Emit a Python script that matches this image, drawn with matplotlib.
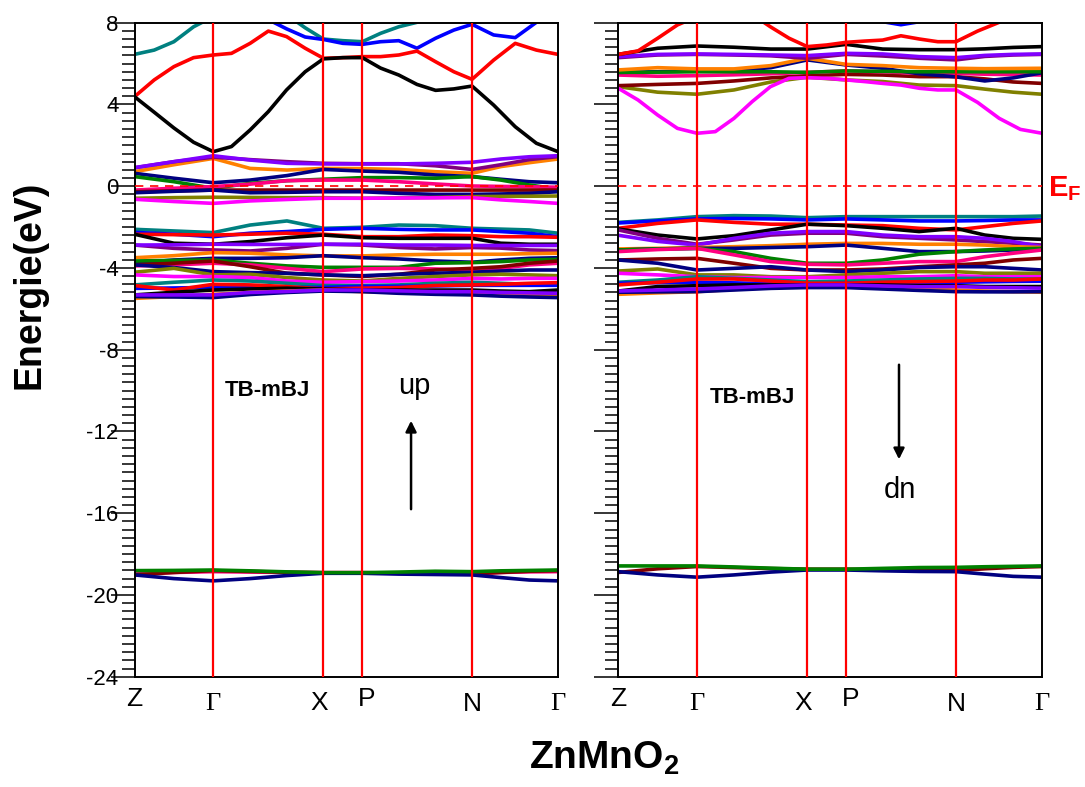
import matplotlib
matplotlib.use("Agg")
import matplotlib.pyplot as plt
from matplotlib.ticker import MultipleLocator
import numpy as np

plt.rcParams['font.family'] = ['Liberation Sans', 'DejaVu Sans']
plt.rcParams['mathtext.fontset'] = 'custom'
plt.rcParams['mathtext.bf'] = 'Liberation Sans:bold'
plt.rcParams['mathtext.rm'] = 'Liberation Sans'
plt.rcParams['axes.unicode_minus'] = False

# ---------------- k-path ----------------
k_labels = ['Z', 'Γ', 'X', 'P', 'N', 'Γ']
k_ticks = [0.0, 0.186, 0.446, 0.538, 0.797, 1.0]
k_fine = [0, .0465, .093, .1395, .186, .229, .273, .316, .359, .403, .446, .492,
          .538, .581, .624, .667, .711, .754, .797, .848, .899, .949, 1.0]
k_coarse = [0, .093, .186, .273, .36, .446, .538, .624, .71, .797, .865, .932, 1.0]

# ---------------- spin up (fine grid) ----------------
up_black_c = [4.38, 3.62, 2.85, 2.15, 1.69, 1.94, 2.75, 3.65, 4.71, 5.6, 6.23, 6.29,
              6.29, 5.78, 5.44, 4.98, 4.69, 4.76, 4.9, 3.97, 2.91, 2.1, 1.69]
up_red_c = [4.38, 5.2, 5.85, 6.29, 6.42, 6.5, 6.99, 7.59, 7.32, 6.75, 6.26, 6.29,
            6.34, 6.34, 6.42, 6.61, 6.09, 5.6, 5.23, 6.17, 6.99, 6.66, 6.45]
up_teal_c = [6.45, 6.66, 7.07, 7.8, 8.3, 8.6, 8.7, 8.6, 8.4, 7.75, 7.2, 7.12,
             7.07, 7.48, 7.8, 8.02, 8.3, 8.5, 8.6, 8.7, 8.8, 8.9, 9.0]
up_blue_c = [8.9, 8.9, 8.8, 8.7, 8.6, 8.5, 8.4, 8.15, 7.7, 7.3, 7.18, 6.99,
             6.94, 7.07, 7.12, 6.75, 7.24, 7.64, 7.92, 7.4, 7.27, 8.02, 8.4]

# ---------------- spin up (coarse grid) ----------------
up_violet = [0.91, 1.2, 1.49, 1.28, 1.12, 1.09, 1.09, 1.09, 1.12, 1.17, 1.33, 1.44, 1.49]
up_dpurple = [0.9, 1.2, 1.42, 1.3, 1.2, 1.12, 1.1, 1.1, 1.0, 0.82, 1.05, 1.3, 1.45]
up_orange = [0.71, 1.05, 1.36, 0.87, 0.79, 0.87, 0.86, 0.82, 0.71, 0.63, 0.96, 1.15, 1.33]
up_navy1 = [0.63, 0.39, 0.17, 0.3, 0.52, 0.82, 0.74, 0.68, 0.55, 0.47, 0.34, 0.22, 0.17]
up_green1 = [0.47, 0.22, -0.1, 0.14, 0.27, 0.34, 0.42, 0.42, 0.39, 0.47, 0.3, 0.06, -0.14]
up_pink1 = [-0.19, -0.1, -0.02, 0.1, 0.27, 0.3, 0.3, 0.22, 0.11, 0.01, -0.01, -0.03, -0.05]
up_maroon1 = [-0.27, -0.23, -0.19, -0.19, -0.19, -0.19, -0.19, -0.19, -0.19, -0.19, -0.19, -0.19, -0.19]
up_navy2 = [-0.32, -0.25, -0.19, -0.32, -0.3, -0.27, -0.27, -0.35, -0.4, -0.4, -0.38, -0.35, -0.27]
up_olive1 = [-0.59, -0.56, -0.54, -0.55, -0.56, -0.56, -0.59, -0.57, -0.55, -0.51, -0.5, -0.49, -0.48]
up_magenta1 = [-0.64, -0.75, -0.84, -0.72, -0.65, -0.59, -0.59, -0.58, -0.57, -0.56, -0.67, -0.75, -0.84]

up_teal2 = [-2.11, -2.19, -2.27, -1.9, -1.7, -2.06, -2.01, -1.9, -1.93, -2.06, -2.1, -2.14, -2.3]
up_blue2 = [-2.26, -2.35, -2.47, -2.3, -2.22, -2.11, -2.06, -2.11, -2.14, -2.14, -2.22, -2.3, -2.47]
up_red2 = [-2.35, -2.37, -2.39, -2.35, -2.3, -2.35, -2.47, -2.47, -2.39, -2.42, -2.47, -2.47, -2.5]
up_black2 = [-2.35, -2.79, -2.84, -2.71, -2.52, -2.39, -2.52, -2.55, -2.55, -2.55, -2.79, -2.84, -2.84]
up_violet2 = [-2.88, -2.87, -2.84, -2.85, -2.85, -2.84, -2.84, -2.88, -2.88, -2.9, -2.9, -2.9, -2.9]
up_dpurple2 = [-2.88, -3.04, -3.12, -3.17, -3.04, -2.84, -2.88, -3.0, -3.07, -3.0, -3.03, -3.12, -3.15]
up_orange2 = [-3.5, -3.4, -3.25, -3.28, -3.36, -3.41, -3.41, -3.36, -3.33, -3.33, -3.33, -3.3, -3.28]
up_navy3 = [-3.77, -3.61, -3.53, -3.53, -3.5, -3.4, -3.5, -3.56, -3.66, -3.72, -3.61, -3.53, -3.5]
up_green2 = [-3.66, -3.63, -3.61, -3.77, -3.9, -3.97, -3.97, -3.97, -3.77, -3.74, -3.69, -3.61, -3.58]
up_maroon2 = [-3.85, -3.77, -3.66, -3.94, -4.26, -4.34, -4.42, -4.31, -4.1, -4.02, -3.94, -3.77, -3.66]
up_pink2 = [-3.9, -3.85, -3.77, -3.85, -4.02, -4.18, -4.05, -4.02, -4.05, -4.1, -4.02, -3.85, -3.77]
up_navy4 = [-3.85, -3.98, -4.18, -4.23, -4.26, -4.34, -4.38, -4.31, -4.26, -4.21, -4.15, -4.1, -4.1]
up_olive2 = [-4.21, -4.02, -4.34, -4.31, -4.47, -4.59, -4.64, -4.51, -4.42, -4.34, -4.31, -4.34, -4.38]
up_magenta2 = [-4.34, -4.42, -4.42, -4.47, -4.64, -4.7, -4.67, -4.64, -4.59, -4.51, -4.54, -4.51, -4.51]
up_teal3 = [-4.83, -4.7, -4.59, -4.64, -4.75, -4.86, -4.86, -4.83, -4.75, -4.7, -4.75, -4.8, -4.83]
up_blue3 = [-5.0, -4.98, -4.95, -4.95, -4.95, -4.95, -4.9, -4.9, -4.88, -4.85, -4.85, -4.85, -4.85]
up_red3 = [-4.86, -5.08, -4.8, -4.83, -4.91, -5.03, -4.99, -4.96, -4.86, -4.83, -4.8, -4.75, -4.72]
up_black3 = [-5.32, -5.19, -5.08, -5.03, -4.99, -5.03, -5.08, -5.08, -5.08, -5.08, -5.13, -5.16, -5.08]
up_violet3 = [-5.32, -5.32, -5.32, -5.2, -5.15, -5.08, -5.08, -5.12, -5.16, -5.16, -5.2, -5.22, -5.24]
up_orange3 = [-5.49, -5.4, -5.29, -5.2, -5.13, -5.08, -5.16, -5.2, -5.24, -5.29, -5.32, -5.32, -5.32]
up_navy5 = [-5.4, -5.42, -5.45, -5.3, -5.2, -5.13, -5.16, -5.24, -5.29, -5.32, -5.38, -5.42, -5.45]

up_pink3 = [-18.95, -18.9, -18.86, -18.88, -18.9, -18.91, -18.91, -18.93, -18.95, -18.95, -18.9, -18.87, -18.86]
up_maroon3 = [-19.02, -18.9, -18.81, -18.85, -18.89, -18.91, -18.91, -18.93, -18.96, -18.97, -18.9, -18.84, -18.81]
up_navy6 = [-19.02, -19.2, -19.31, -19.2, -19.05, -18.94, -18.94, -18.98, -19.0, -19.02, -19.15, -19.27, -19.31]
up_green3 = [-18.81, -18.8, -18.78, -18.82, -18.87, -18.91, -18.91, -18.88, -18.84, -18.86, -18.82, -18.8, -18.78]

# ---------------- spin down (fine grid) ----------------
dn_red_c = [6.45, 6.62, 7.24, 7.89, 8.3, 8.6, 8.6, 8.4, 7.8, 7.24, 6.83, 6.91,
            7.04, 7.1, 7.15, 7.36, 7.2, 7.07, 7.07, 7.59, 8.02, 8.4, 8.7]
dn_magenta_c = [4.79, 4.22, 3.48, 2.83, 2.59, 2.67, 3.32, 4.14, 4.87, 5.28, 5.31, 5.28,
                5.2, 5.12, 5.03, 4.95, 4.79, 4.71, 4.71, 4.1, 3.32, 2.78, 2.59]
dn_blue_c = [8.8, 8.8, 8.8, 8.8, 8.8, 8.8, 8.8, 8.8, 8.8, 8.8, 8.7, 8.6,
             8.4, 8.2, 8.05, 7.9, 8.05, 8.3, 8.6, 8.8, 8.8, 8.8, 8.8]

# ---------------- spin down (coarse grid) ----------------
dn_black1 = [6.45, 6.75, 6.86, 6.8, 6.71, 6.71, 6.94, 6.71, 6.68, 6.68, 6.72, 6.79, 6.83]
dn_violet1 = [6.34, 6.45, 6.47, 6.45, 6.42, 6.39, 6.5, 6.47, 6.34, 6.29, 6.4, 6.45, 6.47]
dn_dpurple1 = [6.29, 6.42, 6.45, 6.42, 6.38, 6.26, 6.45, 6.37, 6.26, 6.18, 6.35, 6.42, 6.45]
dn_orange1 = [5.69, 5.8, 5.74, 5.74, 5.9, 6.26, 5.96, 5.9, 5.8, 5.77, 5.75, 5.76, 5.77]
dn_navy1 = [5.57, 5.6, 5.64, 5.66, 5.8, 6.18, 5.93, 5.77, 5.5, 5.35, 5.15, 5.3, 5.55]
dn_green1 = [5.57, 5.58, 5.6, 5.6, 5.6, 5.57, 5.64, 5.62, 5.6, 5.6, 5.6, 5.6, 5.6]
dn_pink1 = [5.44, 5.38, 5.41, 5.45, 5.5, 5.57, 5.64, 5.6, 5.52, 5.52, 5.48, 5.46, 5.44]
dn_maroon1 = [4.92, 4.98, 5.03, 5.15, 5.3, 5.41, 5.47, 5.44, 5.36, 5.36, 5.25, 5.1, 5.03]
dn_olive1 = [4.87, 4.6, 4.5, 4.71, 5.1, 5.33, 5.2, 5.12, 4.95, 4.92, 4.75, 4.6, 4.5]

dn_teal2 = [-1.77, -1.65, -1.49, -1.44, -1.46, -1.54, -1.49, -1.49, -1.49, -1.49, -1.49, -1.49, -1.46]
dn_blue2 = [-1.8, -1.7, -1.6, -1.58, -1.6, -1.65, -1.6, -1.65, -1.7, -1.7, -1.68, -1.65, -1.65]
dn_red2 = [-2.06, -1.82, -1.65, -1.77, -1.86, -1.86, -1.9, -1.93, -2.06, -2.14, -1.98, -1.82, -1.7]
dn_black2 = [-2.09, -2.39, -2.58, -2.42, -2.14, -1.86, -1.93, -2.06, -2.22, -2.06, -2.39, -2.55, -2.6]
dn_dpurple2 = [-2.14, -2.55, -2.84, -2.63, -2.39, -2.3, -2.3, -2.47, -2.55, -2.63, -2.71, -2.79, -2.88]
dn_violet2 = [-2.4, -2.7, -2.88, -2.55, -2.3, -2.22, -2.22, -2.39, -2.47, -2.47, -2.55, -2.71, -2.96]
dn_orange2 = [-3.07, -3.04, -3.0, -2.96, -2.91, -2.84, -2.8, -2.8, -2.84, -2.84, -2.88, -2.96, -3.0]
dn_navy2 = [-3.12, -3.07, -3.04, -3.04, -3.0, -2.96, -2.88, -3.04, -3.2, -3.2, -3.17, -3.12, -3.07]
dn_green2 = [-3.12, -3.07, -3.04, -3.2, -3.53, -3.77, -3.77, -3.61, -3.33, -3.2, -3.12, -3.07, -3.04]
dn_pink2 = [-3.2, -3.1, -3.04, -3.36, -3.69, -3.82, -3.85, -3.77, -3.69, -3.69, -3.45, -3.28, -3.12]
dn_maroon2 = [-3.61, -3.56, -3.53, -3.77, -4.02, -4.1, -4.1, -4.05, -3.94, -3.85, -3.77, -3.61, -3.53]
dn_navy3 = [-3.61, -3.77, -4.1, -4.02, -3.94, -4.1, -4.18, -4.1, -3.98, -3.94, -3.94, -4.02, -4.1]
dn_olive2 = [-4.15, -4.05, -4.34, -4.34, -4.43, -4.43, -4.34, -4.26, -4.18, -4.18, -4.26, -4.26, -4.26]
dn_magenta2 = [-4.26, -4.34, -4.43, -4.47, -4.47, -4.47, -4.47, -4.43, -4.43, -4.38, -4.43, -4.43, -4.43]
dn_teal3 = [-4.7, -4.59, -4.43, -4.51, -4.59, -4.67, -4.64, -4.59, -4.54, -4.51, -4.51, -4.54, -4.54]
dn_blue3 = [-4.75, -4.72, -4.7, -4.73, -4.77, -4.8, -4.75, -4.73, -4.71, -4.7, -4.68, -4.66, -4.65]
dn_red3 = [-4.83, -4.7, -4.54, -4.54, -4.64, -4.75, -4.75, -4.7, -4.67, -4.64, -4.59, -4.59, -4.54]
dn_black3 = [-5.13, -4.91, -4.87, -4.83, -4.83, -4.83, -4.83, -4.83, -4.87, -4.87, -4.91, -4.91, -4.91]
dn_violet3 = [-5.13, -5.08, -5.03, -4.96, -4.88, -4.83, -4.83, -4.88, -4.92, -4.91, -4.95, -4.97, -4.99]
dn_orange3 = [-5.29, -5.22, -5.16, -5.05, -4.96, -4.91, -4.91, -4.96, -5.03, -5.08, -5.13, -5.16, -5.19]
dn_navy4 = [-5.19, -5.17, -5.16, -5.08, -5.0, -4.96, -4.96, -5.03, -5.1, -5.16, -5.17, -5.17, -5.16]

dn_maroon3 = [-18.9, -18.72, -18.61, -18.66, -18.71, -18.74, -18.74, -18.77, -18.8, -18.81, -18.72, -18.65, -18.61]
dn_navy5 = [-18.86, -19.02, -19.13, -19.02, -18.88, -18.78, -18.78, -18.82, -18.85, -18.86, -18.98, -19.09, -19.13]
dn_green3 = [-18.58, -18.58, -18.58, -18.63, -18.69, -18.74, -18.74, -18.7, -18.66, -18.65, -18.62, -18.6, -18.58]

# ---------------- colours ----------------
TEAL, BLUE, RED, BLACK = '#008080', '#0000ff', '#ff0000', '#000000'
VIOLET, DPURPLE, ORANGE, NAVY = '#8000ff', '#800080', '#ff8000', '#000080'
GREEN, PINK, MAROON, OLIVE, MAGENTA = '#008000', '#ff0080', '#800000', '#808000', '#ff00ff'

up_fine = [(up_teal_c, TEAL), (up_blue_c, BLUE), (up_red_c, RED), (up_black_c, BLACK)]
up_coarse = [
    (up_orange, ORANGE), (up_dpurple, DPURPLE), (up_violet, VIOLET), (up_navy1, NAVY),
    (up_green1, GREEN), (up_pink1, PINK), (up_maroon1, MAROON), (up_navy2, NAVY),
    (up_olive1, OLIVE), (up_magenta1, MAGENTA),
    (up_teal2, TEAL), (up_blue2, BLUE), (up_red2, RED), (up_black2, BLACK),
    (up_dpurple2, DPURPLE), (up_violet2, VIOLET), (up_orange2, ORANGE), (up_navy3, NAVY),
    (up_green2, GREEN), (up_pink2, PINK), (up_maroon2, MAROON), (up_navy4, NAVY),
    (up_olive2, OLIVE), (up_magenta2, MAGENTA), (up_teal3, TEAL), (up_blue3, BLUE),
    (up_red3, RED), (up_black3, BLACK), (up_orange3, ORANGE), (up_navy5, NAVY),
    (up_violet3, VIOLET),
    (up_pink3, PINK), (up_maroon3, MAROON), (up_navy6, NAVY), (up_green3, GREEN),
]
dn_fine = [(dn_blue_c, BLUE), (dn_red_c, RED), (dn_magenta_c, MAGENTA)]
dn_coarse = [
    (dn_olive1, OLIVE), (dn_maroon1, MAROON), (dn_pink1, PINK), (dn_navy1, NAVY),
    (dn_green1, GREEN), (dn_orange1, ORANGE), (dn_dpurple1, DPURPLE), (dn_violet1, VIOLET),
    (dn_black1, BLACK),
    (dn_teal2, TEAL), (dn_blue2, BLUE), (dn_red2, RED), (dn_black2, BLACK),
    (dn_dpurple2, DPURPLE), (dn_violet2, VIOLET), (dn_orange2, ORANGE), (dn_navy2, NAVY),
    (dn_green2, GREEN), (dn_pink2, PINK), (dn_maroon2, MAROON), (dn_navy3, NAVY),
    (dn_olive2, OLIVE), (dn_magenta2, MAGENTA), (dn_teal3, TEAL), (dn_blue3, BLUE),
    (dn_red3, RED), (dn_black3, BLACK), (dn_orange3, ORANGE), (dn_navy4, NAVY),
    (dn_violet3, VIOLET),
    (dn_maroon3, MAROON), (dn_navy5, NAVY), (dn_green3, GREEN),
]

W, H = 1085, 787
fig = plt.figure(figsize=(W / 100, H / 100), dpi=100)
ax_up = fig.add_axes([134.5 / W, 1 - 676.7 / H, 423.5 / W, 654.0 / H])
ax_dn = fig.add_axes([618.3 / W, 1 - 676.7 / H, 423.7 / W, 654.0 / H])

label_offsets = {0: (0, -10), 1: (0, -16), 2: (-4, -14), 3: (4, -10), 4: (0, -15), 5: (0, -16)}


def draw_panel(ax, fine, coarse, labelled):
    for vals, col in coarse:
        ax.plot(k_coarse, vals, color=col, lw=2.6, solid_joinstyle='round',
                solid_capstyle='round', zorder=2)
    for vals, col in fine:
        ax.plot(k_fine, vals, color=col, lw=2.6, solid_joinstyle='round',
                solid_capstyle='round', zorder=2)
    for kx in k_ticks[1:-1]:
        ax.axvline(kx, color='#ff0000', lw=1.6, zorder=3)
    ax.axhline(0, color='#ff0000', lw=1.2, ls=(0, (5, 4)), zorder=3)
    ax.set_xlim(0, 1)
    ax.set_ylim(-24, 8)
    ax.yaxis.set_major_locator(MultipleLocator(4))
    ax.yaxis.set_minor_locator(MultipleLocator(0.4))
    ax.tick_params(axis='y', which='major', direction='out', length=17.5, width=1.1,
                   labelsize=16, pad=-6, labelleft=labelled)
    ax.tick_params(axis='y', which='minor', direction='out', length=9.5, width=1.1)
    ax.set_xticks([])
    for sp in ax.spines.values():
        sp.set_linewidth(1.4)
    for i, (kx, lab) in enumerate(zip(k_ticks, k_labels)):
        dx, dy = label_offsets[i]
        if lab == 'Γ':
            ax.annotate(lab, (kx, 0), xycoords=('data', 'axes fraction'),
                        xytext=(dx, dy), textcoords='offset pixels', ha='center', va='top',
                        fontsize=19, family=['Liberation Serif', 'DejaVu Serif'])
        else:
            ax.annotate(lab, (kx, 0), xycoords=('data', 'axes fraction'),
                        xytext=(dx, dy), textcoords='offset pixels', ha='center', va='top',
                        fontsize=19)


draw_panel(ax_up, up_fine, up_coarse, True)
draw_panel(ax_dn, dn_fine, dn_coarse, False)

# annotations
ax_up.text(0.313, -10.0, 'TB-mBJ', fontsize=16, fontweight='bold', ha='center', va='center')
ax_dn.text(0.3156, -10.36, 'TB-mBJ', fontsize=16, fontweight='bold', ha='center', va='center')
ax_up.text(0.66, -9.77, 'up', fontsize=21, ha='center', va='center')
ax_dn.text(0.665, -14.86, 'dn', fontsize=21, ha='center', va='center')
ax_up.annotate('', xy=(0.653, -11.34), xytext=(0.653, -15.94),
               arrowprops=dict(arrowstyle='-|>', color='black', lw=1.8, mutation_scale=16))
ax_dn.annotate('', xy=(0.6625, -13.5), xytext=(0.6625, -8.6),
               arrowprops=dict(arrowstyle='-|>', color='black', lw=1.8, mutation_scale=16))

fig.text(1048 / W, 1 - 189 / H, r'$\mathbf{E_F}$', color='#ff0000', fontsize=21,
         ha='left', va='center')
fig.text(30 / W, 1 - 285 / H, 'Energie(eV)', rotation=90, fontsize=27, fontweight='bold',
         ha='center', va='center')
fig.text(604 / W, 1 - 758 / H, r'$\mathbf{ZnMnO_2}$', fontsize=28, ha='center', va='center')

fig.savefig('out.png', dpi=100)
